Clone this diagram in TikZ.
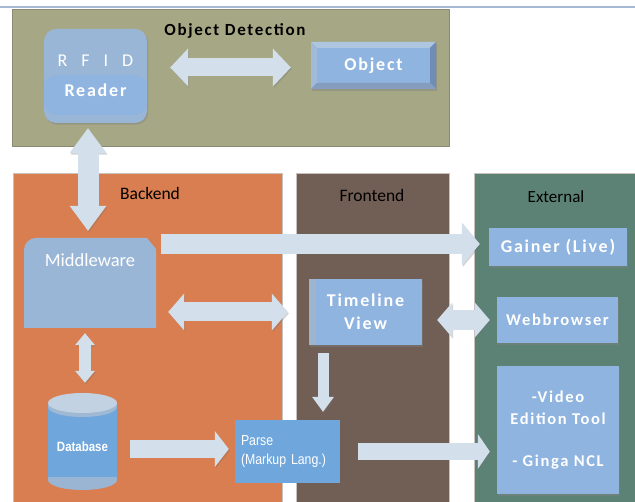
\documentclass[tikz,border=0pt]{standalone}
\usepackage{fontspec}
\setmainfont{Carlito}
\newfontfamily\spacedfont[LetterSpace=10]{Carlito}
\newfontfamily\narrowfont[FakeStretch=0.85]{Liberation Sans}
\usetikzlibrary{arrows.meta,shadows}
\definecolor{detectolive}{HTML}{A6A885}
\definecolor{detectedge}{HTML}{8A8B72}
\definecolor{backorange}{HTML}{D97E50}
\definecolor{frontbrown}{HTML}{715E55}
\definecolor{extgreen}{HTML}{5B8275}
\definecolor{paneledge}{HTML}{C9C2BC}
\definecolor{boxblue}{HTML}{8FB4E0}
\definecolor{boxpale}{HTML}{9AB6D6}
\definecolor{stripblue}{HTML}{9EB5CF}
\definecolor{parseblue}{HTML}{6FA7DC}
\definecolor{bevellight}{HTML}{AFC6E0}
\definecolor{bevelleft}{HTML}{A0BAD8}
\definecolor{beveldark}{HTML}{6F8DB5}
\definecolor{dbtop}{HTML}{C2D2E2}
\definecolor{dbrim}{HTML}{9FB8D3}
\definecolor{dbbody}{HTML}{6FA6DC}
\definecolor{dbpale}{HTML}{9AB5D3}
\definecolor{arrowfill}{HTML}{D3DFEA}
\definecolor{rulecol}{HTML}{A4B8D3}
\tikzset{
  sys canvas/.style={
    x=1pt,
    y=1pt,
    line join=round
  },
  sys panel/.style={
    fill=#1,
    draw=paneledge,
    line width=0.6pt,
    inner sep=0pt
  },
  sys title/.style={
    font=\fontsize{17.5}{20}\selectfont,
    text=black,
    inner sep=1pt
  },
  sys box/.style={
    fill=boxblue,
    text=white,
    align=center,
    inner sep=0pt,
    font=\spacedfont\bfseries\fontsize{18}{22}\selectfont,
    drop shadow={shadow xshift=1.2pt,shadow yshift=-1.6pt,opacity=0.45}
  },
  sys shade/.style={
    preaction={draw=black!55,opacity=0.3,transform canvas={shift={(1pt,-1.5pt)}}}
  },
  sys block/.style n args={3}{
    draw=arrowfill,
    line width=#1,
    arrows={-Triangle[width=#2,length=#3,line width=0pt]},
    sys shade
  },
  sys twoway/.style n args={3}{
    draw=arrowfill,
    line width=#1,
    arrows={Triangle[width=#2,length=#3,line width=0pt]-Triangle[width=#2,length=#3,line width=0pt]},
    sys shade
  }
}
\begin{document}
\begin{tikzpicture}[sys canvas]

  \fill[white] (0,0) rectangle (635,502);
  \useasboundingbox (0,0) rectangle (635,502);
  \draw[rulecol,line width=1.4pt] (0,495) -- (635,495);

  \node[sys panel=detectolive,draw=detectedge,minimum width=437pt,minimum height=137pt] (detect) at (230.5,424.5) {};
  \node[sys title,font=\spacedfont\bfseries\fontsize{17}{20}\selectfont] (detecttitle) at (235,471) {Object Detection};

  \node[sys panel=backorange,minimum width=269pt,minimum height=329pt] (backend) at (147.5,164.5) {};
  \node[sys panel=frontbrown,minimum width=153pt,minimum height=329pt] (frontend) at (372.5,164.5) {};
  \node[sys panel=extgreen,minimum width=161pt,minimum height=329pt] (external) at (554.5,164.5) {};
  \node[sys title] (backtitle) at (150,309) {Backend};
  \node[sys title] (fronttitle) at (372,307) {Frontend};
  \node[sys title,font=\fontsize{17}{20}\selectfont] (exttitle) at (556,305) {External};

  \node[sys box,fill=boxpale,rounded corners=12pt,minimum width=103pt,minimum height=94pt,
        path picture={\fill[boxblue] ([yshift=8pt]path picture bounding box.south west)
                      rectangle ([yshift=48pt]path picture bounding box.south east);}]
        (rfid) at (95.5,426) {{\mdseries\spaceskip=14pt R F I D}\\[8pt]Reader};

  \node[sys box,minimum width=125pt,minimum height=47pt,
        path picture={
          \fill[bevellight] (path picture bounding box.north west) -- (path picture bounding box.north east)
            -- ([shift={(-6pt,-6pt)}]path picture bounding box.north east) -- ([shift={(6pt,-6pt)}]path picture bounding box.north west) -- cycle;
          \fill[bevelleft] (path picture bounding box.north west) -- ([shift={(6pt,-6pt)}]path picture bounding box.north west)
            -- ([shift={(6pt,6pt)}]path picture bounding box.south west) -- (path picture bounding box.south west) -- cycle;
          \fill[beveldark] (path picture bounding box.north east) -- ([shift={(-6pt,-6pt)}]path picture bounding box.north east)
            -- ([shift={(-6pt,6pt)}]path picture bounding box.south east) -- (path picture bounding box.south east) -- cycle;
          \fill[beveldark!85!white] (path picture bounding box.south west) -- ([shift={(6pt,6pt)}]path picture bounding box.south west)
            -- ([shift={(-6pt,6pt)}]path picture bounding box.south east) -- (path picture bounding box.south east) -- cycle;}]
        (obj) at (373.5,436.5) {Object};

  \node[fill=backorange,minimum width=132pt,inner sep=0pt,text height=29pt,text depth=61pt,
        text=white,font=\fontsize{18.5}{22}\selectfont,
        path picture={\fill[boxpale] (path picture bounding box.south west)
          -- ([yshift=-12pt]path picture bounding box.north west) arc[start angle=180,end angle=90,radius=12pt]
          -- ([xshift=-9pt]path picture bounding box.north east) -- ([yshift=-11pt]path picture bounding box.north east)
          -- (path picture bounding box.south east) -- cycle;}]
        (mw) at (90,219) {Middleware};

  \node[fill=backorange,minimum width=69pt,inner sep=0pt,text height=59pt,text depth=38pt,
        text=white,font=\narrowfont\bfseries\fontsize{13.5}{16}\selectfont,
        path picture={
          \fill[dbpale] ([yshift=10pt]path picture bounding box.south) ellipse[x radius=34.5pt,y radius=10pt];
          \fill[dbpale] ([yshift=10pt]path picture bounding box.south west) rectangle ([yshift=13pt]path picture bounding box.south east);
          \fill[dbbody] ([yshift=13pt]path picture bounding box.south west) rectangle ([yshift=-14pt]path picture bounding box.north east);
          \fill[dbrim] ([yshift=-14pt]path picture bounding box.north) ellipse[x radius=34.5pt,y radius=10pt];
          \fill[dbrim] ([yshift=-14pt]path picture bounding box.north west) rectangle ([yshift=-10pt]path picture bounding box.north east);
          \fill[dbtop] ([yshift=-10pt]path picture bounding box.north) ellipse[x radius=34.5pt,y radius=10pt];}]
        (db) at (82.5,60.5) {Database};

  \node[fill=parseblue,minimum width=105pt,minimum height=63pt,text width=93pt,align=left,
        inner xsep=6pt,inner ysep=0pt,text=white,font=\narrowfont\fontsize{14.5}{19}\selectfont]
        (parse) at (287.5,50.5) {Parse\\(Markup Lang.)};

  \node[sys box,minimum width=113pt,minimum height=66pt,font=\spacedfont\bfseries\fontsize{18}{23}\selectfont,
        path picture={\fill[stripblue] (path picture bounding box.north west)
                      rectangle ([xshift=7pt]path picture bounding box.south west);}]
        (tl) at (365.5,190) {Timeline\\View};

  \node[sys box,minimum width=138pt,minimum height=38pt] (gainer) at (558,255) {Gainer (Live)};
  \node[sys box,minimum width=121pt,minimum height=46pt,font=\spacedfont\bfseries\fontsize{16.5}{19}\selectfont] (web) at (557.5,182) {Webbrowser};
  \node[sys box,minimum width=122pt,minimum height=128pt,font=\spacedfont\bfseries\fontsize{16.5}{22}\selectfont]
        (video) at (558,72) {-Video\\Edition Tool\\[20pt]- Ginga NCL};

  \draw[sys twoway={18pt}{38pt}{18pt},shorten <=23pt,shorten >=20pt] ([yshift=-2pt]obj.west -| rfid.east) -- ([yshift=-2pt]obj.west);
  \draw[sys twoway={21pt}{37pt}{25pt},shorten <=5pt,shorten >=7pt] ([xshift=-7.5pt]rfid.south) -- ([xshift=-2pt]mw.north);
  \draw[sys block={20pt}{43pt}{18pt},shorten <=5pt,shorten >=9pt] ([yshift=3pt]gainer.west -| mw.east) -- ([yshift=3pt]gainer.west);
  \draw[sys twoway={19pt}{37pt}{16pt},shorten <=12pt,shorten >=21pt] (tl.west -| mw.east) -- (tl.west);
  \draw[sys twoway={20pt}{35pt}{15pt},shorten <=15pt,shorten >=7pt] (web.west -| tl.east) -- (web.west);
  \draw[sys twoway={12pt}{20pt}{12pt},shorten <=5pt,shorten >=10pt] ([xshift=-5pt]mw.south) -- ([xshift=-5pt]mw.south |- db.north);
  \draw[sys block={11pt}{22pt}{15pt},shorten <=8pt,shorten >=8pt] ([xshift=-42.5pt]tl.south) -- ([xshift=-42.5pt]tl.south |- parse.north);
  \draw[sys block={18pt}{36pt}{14pt},shorten <=13pt,shorten >=6pt] ([yshift=2.5pt]parse.west -| db.east) -- ([yshift=2.5pt]parse.west);
  \draw[sys block={17pt}{35pt}{12pt},shorten <=18pt,shorten >=7pt] (parse.east) -- (parse.east -| video.west);

\end{tikzpicture}
\end{document}
